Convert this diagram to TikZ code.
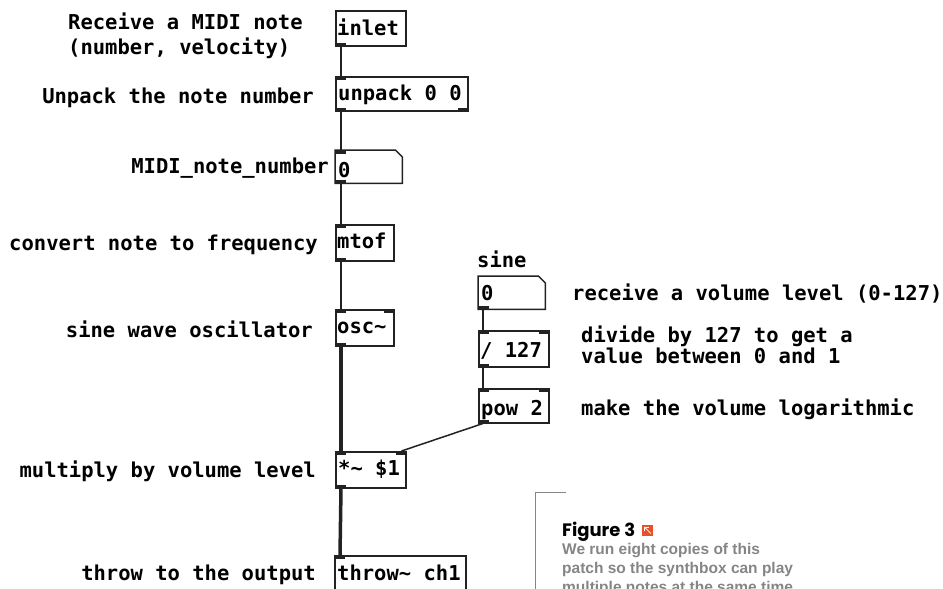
\documentclass[tikz,border=0pt]{standalone}
\usepackage{fontspec}
\newfontfamily\pdfont{DejaVu Sans Mono}
\newfontfamily\figfont{Poppins}
\newfontfamily\captfont{Liberation Sans}
\definecolor{capgray}{HTML}{858585}
\definecolor{iconred}{HTML}{E5512D}
\definecolor{pdline}{HTML}{222222}
\newcommand\pdinL[1]{\fill[pdline] (#1.north west) rectangle ++(11pt,-3.5pt);}
\newcommand\pdinR[1]{\fill[pdline] (#1.north east) rectangle ++(-11pt,-3.5pt);}
\newcommand\pdoutL[1]{\fill[pdline] (#1.south west) rectangle ++(11pt,3.5pt);}
\newcommand\pdoutR[1]{\fill[pdline] (#1.south east) rectangle ++(-11pt,3.5pt);}
\tikzset{
  pdtext/.style={font=\pdfont\bfseries\fontsize{20.5}{23}\selectfont, text=black, inner sep=0pt},
  pdbox/.style={draw=pdline, line width=1.5pt, anchor=north west, inner sep=0pt},
  pdnum/.style={anchor=north west, inner sep=0pt},
  boxlabel/.style={pdtext, anchor=base west},
  ctrl/.style={draw=pdline, line width=1.5pt},
  sig/.style={draw=pdline, line width=3.5pt},
  cmt/.style={pdtext},
  captline/.style={anchor=base west, inner sep=0pt, text=capgray, font=\captfont\bfseries\fontsize{15.5}{19}\selectfont},
}
\begin{document}
\begin{tikzpicture}[x=1pt,y=-1pt]
\useasboundingbox (0,0) rectangle (943,589);
\clip (0,0) rectangle (943,589);
% boxes
\node[pdbox, minimum width=70pt, minimum height=35pt] (inlet) at (335,10) {};
\node[pdbox, minimum width=132pt, minimum height=34pt] (unpack) at (335,76) {};
\node[pdnum, minimum width=67pt, minimum height=33pt] (num) at (335,150) {};
\node[pdbox, minimum width=58pt, minimum height=36pt] (mtof) at (335,224) {};
\node[pdbox, minimum width=58pt, minimum height=36pt] (osc) at (335,309) {};
\node[pdnum, minimum width=67pt, minimum height=33pt] (vol) at (478,276) {};
\node[pdbox, minimum width=70pt, minimum height=36pt] (div) at (478,330) {};
\node[pdbox, minimum width=70pt, minimum height=34pt] (pow) at (478,388) {};
\node[pdbox, minimum width=70pt, minimum height=36pt] (mul) at (335,451) {};
\node[pdbox, minimum width=131pt, minimum height=45pt] (throw) at (334,555) {};
% box texts
\node[boxlabel] (tinlet) at ([shift={(2pt,-25pt)}]inlet.north west) {inlet};
\node[boxlabel] (tunpack) at ([shift={(3pt,-24pt)}]unpack.north west) {unpack 0 0};
\node[boxlabel] (tnum) at ([shift={(3pt,-27pt)}]num.north west) {0};
\node[boxlabel] (tmtof) at ([shift={(2pt,-24pt)}]mtof.north west) {mtof};
\node[boxlabel] (tosc) at ([shift={(2pt,-24pt)}]osc.north west) {osc\textasciitilde};
\node[boxlabel] (tvol) at ([shift={(3pt,-24pt)}]vol.north west) {0};
\node[boxlabel] (tdiv) at ([shift={(2pt,-27pt)}]div.north west) {/ 127};
\node[boxlabel] (tpow) at ([shift={(3pt,-27pt)}]pow.north west) {pow 2};
\node[boxlabel] (tmul) at ([shift={(3pt,-24pt)}]mul.north west) {*\textasciitilde{} \$1};
\node[boxlabel] (tthrow) at ([shift={(3pt,-25pt)}]throw.north west) {throw\textasciitilde{} ch1};
% number boxes (notched)
\draw[pdline, line width=1.5pt] (num.north west) -- ([xshift=-7pt]num.north east) -- ([yshift=-7pt]num.north east) -- (num.south east) -- (num.south west) -- cycle;
\draw[pdline, line width=1.5pt] (vol.north west) -- ([xshift=-7pt]vol.north east) -- ([yshift=-7pt]vol.north east) -- (vol.south east) -- (vol.south west) -- cycle;
% inlets / outlets
\pdoutL{inlet}
\pdinL{unpack} \pdoutL{unpack} \pdoutR{unpack}
\pdinL{num} \pdoutL{num}
\pdinL{mtof} \pdoutL{mtof}
\pdinL{osc} \pdinR{osc} \pdoutL{osc}
\pdoutL{vol}
\pdinL{div} \pdinR{div} \pdoutL{div}
\pdinL{pow} \pdinR{pow} \pdoutL{pow}
\pdinL{mul} \pdinR{mul} \pdoutL{mul}
\pdinL{throw}
% connections
\draw[ctrl] ([xshift=6pt]inlet.south west) -- ([xshift=6pt]unpack.north west);
\draw[ctrl] ([xshift=6pt]unpack.south west) -- ([xshift=6pt]num.north west);
\draw[ctrl] ([xshift=6pt]num.south west) -- ([xshift=6pt]mtof.north west);
\draw[ctrl] ([xshift=6pt]mtof.south west) -- ([xshift=6pt]osc.north west);
\draw[sig] ([xshift=6pt]osc.south west) -- ([xshift=6pt]mul.north west);
\draw[sig] ([xshift=6pt]mul.south west) -- ([xshift=6pt]throw.north west);
\draw[ctrl] ([xshift=5pt]vol.south west) -- ([xshift=5pt]div.north west);
\draw[ctrl] ([xshift=5pt]div.south west) -- ([xshift=5pt]pow.north west);
\draw[ctrl] ([xshift=5pt]pow.south west) -- ([xshift=-5pt]mul.north east);
% comments
\node[cmt, anchor=base west] (c1) at (68,30) {Receive a MIDI note};
\node[cmt, anchor=base west] (c1b) at (68,54) {(number, velocity)};
\node[cmt, anchor=base east] (c2) at (314,103) {Unpack the note number};
\node[cmt, anchor=base east] (c3) at (329,173) {MIDI\_note\_number};
\node[cmt, anchor=base east] (c4) at (318,250) {convert note to frequency};
\node[cmt, anchor=base east] (c5) at (313,337) {sine wave oscillator};
\node[cmt, anchor=base east] (c6) at (316,477) {multiply by volume level};
\node[cmt, anchor=base east] (c7) at (316,580) {throw to the output};
\node[cmt, anchor=base west] (c8) at (477,267) {sine};
\node[cmt, anchor=base west] (c9) at (572,300) {receive a volume level (0-127)};
\node[cmt, anchor=base west] (c10) at (581,342) {divide by 127 to get a};
\node[cmt, anchor=base west] (c10b) at (581,363) {value between 0 and 1};
\node[cmt, anchor=base west] (c11) at (581,415) {make the volume logarithmic};
% caption
\draw[capgray, line width=1pt] (566,492) -- (535,492) -- (535,600);
\node[anchor=base west, inner sep=0pt, font=\figfont\bfseries\fontsize{18}{21}\selectfont] (fig) at (562,536) {Figure 3};
\node[fill=iconred, minimum width=11pt, minimum height=11pt, inner sep=0pt, anchor=south west] (icon) at (642,536) {};
\draw[white, line width=0.8pt] ([shift={(-2.5pt,2.5pt)}]icon.south east) -- ([shift={(2.5pt,-2.5pt)}]icon.north west);
\draw[white, line width=0.8pt] ([shift={(2.5pt,-6.5pt)}]icon.north west) -- ([shift={(2.5pt,-2.5pt)}]icon.north west) -- ([shift={(6.5pt,-2.5pt)}]icon.north west);
\node[captline] (cap1) at (562,554) {We run eight copies of this};
\node[captline] (cap2) at (562,573) {patch so the synthbox can play};
\node[captline] (cap3) at (562,592) {multiple notes at the same time};
\end{tikzpicture}
\end{document}
